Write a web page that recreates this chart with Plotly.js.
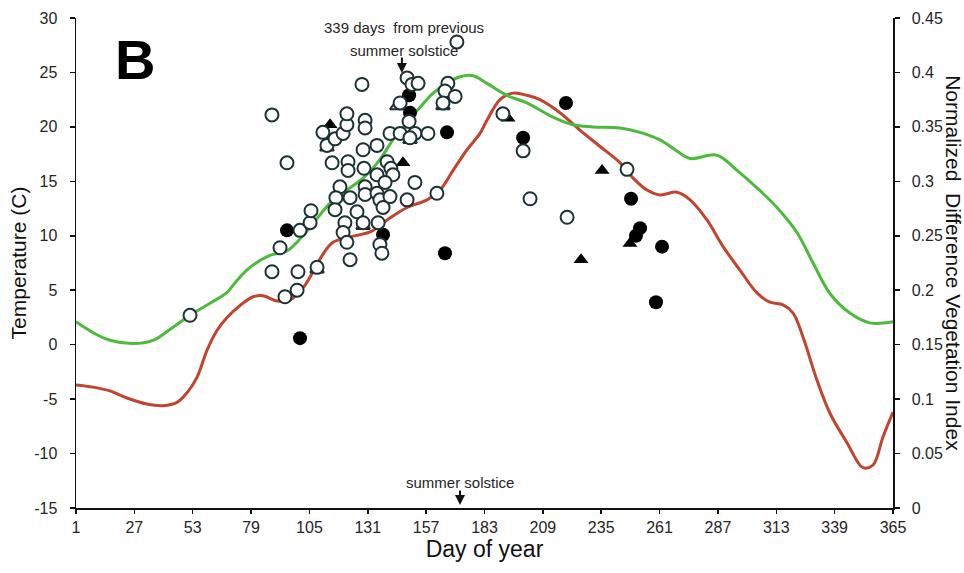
<!DOCTYPE html>
<html>
<head>
<meta charset="utf-8">
<script src="https://cdn.plot.ly/plotly-3.0.1.min.js"></script>
<style>html,body{margin:0;padding:0;background:#fff;}#chart{width:964px;height:573px;}</style>
</head>
<body>
<div id="chart"></div>
<script>
// ---- Data ----
const xTickVals = [1, 27, 53, 79, 105, 131, 157, 183, 209, 235, 261, 287, 313, 339, 365];
const yTickVals = [-15, -10, -5, 0, 5, 10, 15, 20, 25, 30];
const yTickText = ["-15", "-10", "-5", "0", "5", "10", "15", "20", "25", "30"];
const y2TickVals = [0, 0.05, 0.1, 0.15, 0.2, 0.25, 0.3, 0.35, 0.4, 0.45];
const y2TickText = ["0", "0.05", "0.1", "0.15", "0.2", "0.25", "0.3", "0.35", "0.4", "0.45"];

// Temperature curve (red, left axis)
const tempDays = [1, 8.6, 16.1, 23.7, 32.6, 39.8, 46, 50.5, 54.9, 59.4, 63.8, 68.3, 74.1, 79.9, 84.3, 90.6, 96.3, 102.1, 106.6, 111, 115.5, 123.1, 132, 139.6, 148.5, 157.4, 163.2, 169, 175.2, 181, 184.1, 189.9, 195.7, 201.9, 207.7, 216.6, 225.5, 234.5, 243.4, 249.2, 255.4, 261.2, 268.8, 274.6, 282.1, 289.3, 296.8, 304.4, 310.2, 316, 320.5, 324.9, 331.1, 336.9, 344.5, 351.6, 356.1, 360.5, 365];
const tempValues = [-3.7, -3.9, -4.25, -4.9, -5.45, -5.6, -5.3, -4.4, -3.0, -0.5, 1.3, 2.5, 3.6, 4.4, 4.5, 4.0, 4.1, 5.2, 6.7, 8.3, 9.4, 9.9, 10.35, 11.45, 12.6, 13.3, 14.2, 16.0, 17.9, 19.4, 20.6, 22.5, 23.1, 22.9, 22.5, 21.3, 19.7, 18.2, 16.7, 15.3, 14.2, 13.75, 14.0, 13.3, 11.45, 9.0, 6.85, 4.75, 3.9, 3.65, 2.9, 0.7, -3.25, -6.3, -9.0, -11.3, -11.05, -8.5, -6.2];

// NDVI curve (green, right axis)
const ndviDays = [1, 8.6, 16.1, 26.4, 35.3, 44.2, 51.8, 60.7, 68.3, 72.7, 78.5, 87.4, 95, 102.1, 108.4, 114.2, 121.7, 128.9, 136.4, 142.2, 148.5, 154.3, 160.1, 166.3, 172.1, 177.9, 184.1, 193, 201.9, 213.5, 222.4, 231.3, 243.4, 252.3, 261.2, 267.9, 274.6, 286.6, 295.5, 304.4, 313.3, 322.2, 329.4, 336.9, 345.8, 354.7, 365];
const ndviValues = [0.171, 0.161, 0.154, 0.151, 0.154, 0.166, 0.177, 0.188, 0.198, 0.209, 0.221, 0.232, 0.236, 0.250, 0.266, 0.280, 0.292, 0.303, 0.320, 0.338, 0.354, 0.368, 0.381, 0.390, 0.396, 0.397, 0.390, 0.379, 0.372, 0.359, 0.352, 0.350, 0.349, 0.345, 0.338, 0.329, 0.321, 0.324, 0.310, 0.294, 0.276, 0.253, 0.225, 0.197, 0.179, 0.170, 0.171];

// Observations: open circles
const openDays = [51.8, 88.3, 95.0, 88.3, 99.9, 91.9, 94.1, 99.5, 100.8, 105.3, 105.7, 108.4, 111.0, 112.8, 116.4, 120.0, 121.7, 121.7, 115.1, 122.2, 122.2, 129.3, 118.6, 116.8, 123.1, 129.8, 116.4, 126.2, 120.8, 120.0, 121.7, 123.1, 128.9, 128.4, 129.8, 129.8, 128.9, 135.1, 139.6, 141.3, 142.2, 135.1, 138.7, 152.0, 129.8, 135.1, 136.4, 140.9, 148.5, 137.8, 135.6, 136.4, 137.3, 140.9, 145.4, 152.0, 157.8, 149.8, 145.4, 148.5, 150.7, 153.4, 149.4, 166.7, 165.4, 169.9, 164.5, 161.8, 170.7, 191.2, 200.2, 203.3, 219.8, 246.5];
const openTemps = [2.7, 21.1, 16.7, 6.7, 6.7, 8.9, 4.4, 5.0, 10.5, 11.2, 12.3, 7.1, 19.5, 18.3, 18.9, 19.4, 20.2, 21.2, 16.7, 16.8, 16.0, 16.2, 14.5, 13.5, 13.5, 14.5, 12.4, 12.2, 11.2, 10.3, 9.4, 7.8, 11.2, 23.9, 20.6, 19.9, 17.9, 18.3, 16.8, 16.2, 15.6, 15.6, 14.9, 14.9, 13.8, 13.9, 13.3, 13.6, 13.3, 12.6, 11.2, 9.2, 8.4, 19.4, 19.4, 19.4, 19.4, 19.0, 22.2, 24.5, 23.9, 24.0, 20.5, 24.0, 23.3, 22.8, 22.2, 13.9, 27.8, 21.2, 17.8, 13.4, 11.7, 16.1];

// Observations: filled circles
const filledDays = [95.0, 100.8, 137.8, 149.4, 149.8, 166.3, 165.4, 200.2, 219.3, 248.3, 252.3, 250.5, 262.1, 259.4];
const filledTemps = [10.5, 0.6, 10.1, 22.9, 21.3, 19.5, 8.4, 19.0, 22.2, 13.4, 10.7, 10.0, 9.0, 3.9];

// Observations: filled triangles
const triFilledDays = [114.2, 146.7, 235.4, 226.0, 247.8, 193.5];
const triFilledTemps = [20.2, 16.7, 16.0, 7.8, 9.3, 20.8];

// Observations: open triangles (mostly hidden behind circles)
const triOpenDays = [108.4, 128.9, 144.0, 149.8, 164.5, 112.8];
const triOpenTemps = [6.9, 10.9, 21.9, 18.8, 21.9, 18.1];

const FONT = 'Liberation Sans, Arial, sans-serif';
const TXT = '#262626';

const traces = [
  {x: tempDays, y: tempValues, yaxis: 'y', mode: 'lines', type: 'scatter',
   line: {color: '#c4432f', width: 3, shape: 'spline', smoothing: 1}, hoverinfo: 'skip'},
  {x: ndviDays, y: ndviValues, yaxis: 'y2', mode: 'lines', type: 'scatter',
   line: {color: '#4cbb3c', width: 3, shape: 'spline', smoothing: 1}, hoverinfo: 'skip'},
  {x: triOpenDays, y: triOpenTemps, yaxis: 'y3', mode: 'markers', type: 'scatter',
   marker: {symbol: 'triangle-up', size: 12, color: '#ffffff', line: {color: '#1d2f33', width: 2}}},
  {x: triFilledDays, y: triFilledTemps, yaxis: 'y3', mode: 'markers', type: 'scatter',
   marker: {symbol: 'triangle-up', size: 13, color: '#000000', line: {width: 0}}},
  {x: filledDays, y: filledTemps, yaxis: 'y3', mode: 'markers', type: 'scatter',
   marker: {symbol: 'circle', size: 14, color: '#000000', line: {width: 0}}},
  {x: openDays, y: openTemps, yaxis: 'y3', mode: 'markers', type: 'scatter',
   marker: {symbol: 'circle', size: 13, color: '#ffffff', line: {color: '#1d3236', width: 2}}}
];

const layout = {
  width: 964, height: 573,
  margin: {l: 76, r: 71, t: 18, b: 65, pad: 0},
  paper_bgcolor: '#ffffff', plot_bgcolor: '#ffffff',
  showlegend: false,
  font: {family: FONT, color: TXT, size: 15},
  xaxis: {
    range: [1, 365], tickmode: 'array', tickvals: xTickVals,
    showline: true, linecolor: '#111', linewidth: 1.5, ticks: 'outside', ticklen: 4, tickwidth: 1.5, tickcolor: '#111',
    showgrid: false, zeroline: false, tickfont: {size: 16, color: TXT},
    title: {text: 'Day of year', font: {size: 23, color: '#111'}, standoff: 5}
  },
  yaxis: {
    range: [-15, 30], tickmode: 'array', tickvals: yTickVals, ticktext: yTickText,
    showline: true, linecolor: '#111', linewidth: 1.5, ticks: 'outside', ticklen: 5, tickwidth: 1.5, tickcolor: '#111',
    showgrid: false, zeroline: false, tickfont: {size: 16, color: TXT}, ticklabelstandoff: 9,
    title: {text: 'Temperature (C)', font: {size: 21, color: '#111'}, standoff: 2}
  },
  yaxis2: {
    overlaying: 'y', side: 'right', range: [0, 0.45], tickmode: 'array', tickvals: y2TickVals, ticktext: y2TickText,
    showline: true, linecolor: '#111', linewidth: 1.5, ticks: 'outside', ticklen: 5, tickwidth: 1.5, tickcolor: '#111',
    showgrid: false, zeroline: false, tickfont: {size: 16, color: TXT}, ticklabelstandoff: 9
  },
  yaxis3: {overlaying: 'y', range: [-15, 30], visible: false, showgrid: false, zeroline: false},
  annotations: [
    {xref: 'paper', yref: 'paper', x: 0.072, y: 0.915, text: '<b>B</b>', showarrow: false,
     font: {size: 56, color: '#000', family: FONT}, xanchor: 'center', yanchor: 'middle'},
    {xref: 'paper', yref: 'paper', x: 1.0745, y: 0.5, text: 'Normalized  Difference Vegetation Index', textangle: 90,
     showarrow: false, font: {size: 21, color: '#111'}, xanchor: 'center', yanchor: 'middle'},
    {xref: 'x', yref: 'paper', x: 147.0, y: 1.0, yshift: -9, text: '339 days  from previous', showarrow: false,
     font: {size: 15, color: TXT}, xanchor: 'center', yanchor: 'middle'},
    {xref: 'x', yref: 'paper', x: 147.0, y: 1.0, yshift: -32, text: 'summer solstice', showarrow: false,
     font: {size: 15, color: TXT}, xanchor: 'center', yanchor: 'middle'},
    {xref: 'x', yref: 'paper', x: 146.2, y: 0.888, ax: 0, ay: -17, text: '', showarrow: true,
     arrowhead: 2, arrowsize: 1, arrowwidth: 2, arrowcolor: '#111'},
    {xref: 'x', yref: 'paper', x: 172.1, y: 0.053, text: 'summer solstice', showarrow: false,
     font: {size: 15, color: TXT}, xanchor: 'center', yanchor: 'middle'},
    {xref: 'x', yref: 'paper', x: 172.1, y: 0.006, ax: 0, ay: -16, text: '', showarrow: true,
     arrowhead: 2, arrowsize: 1, arrowwidth: 2, arrowcolor: '#111'}
  ]
};

Plotly.newPlot('chart', traces, layout, {displayModeBar: false, staticPlot: true});
</script>
</body>
</html>
